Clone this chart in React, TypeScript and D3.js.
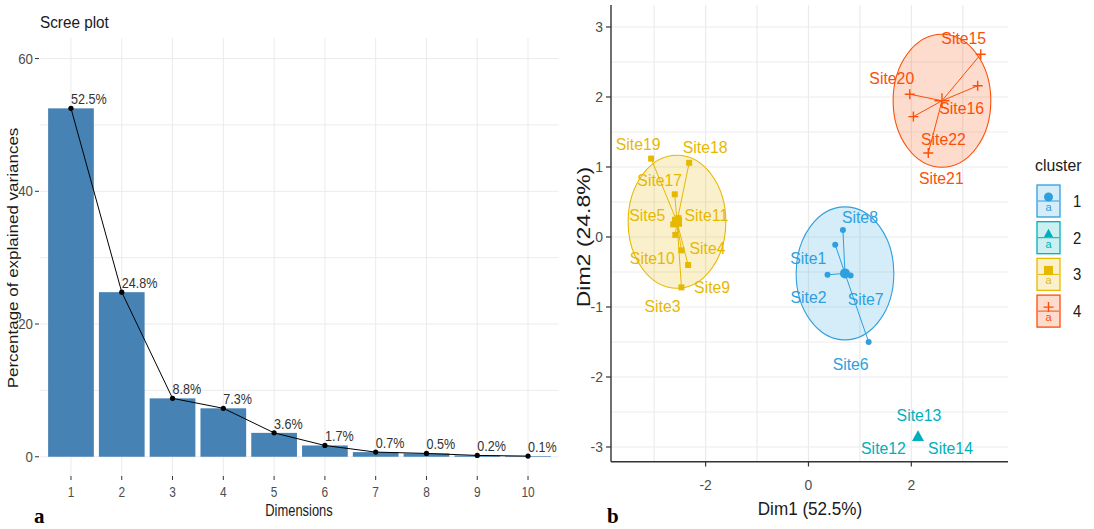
import React from "react";
import * as d3 from "d3";

// ---------- Scree plot data ----------
const dims = [1, 2, 3, 4, 5, 6, 7, 8, 9, 10];
const variances = [52.5, 24.8, 8.8, 7.3, 3.6, 1.7, 0.7, 0.5, 0.2, 0.1];
const screeYTicks = [0, 20, 40, 60];
const screeGridY = [0, 10, 20, 30, 40, 50, 60];

// ---------- Cluster plot data ----------
const siteNames = [
  "Site1", "Site2", "Site3", "Site4", "Site5", "Site6", "Site7", "Site8", "Site9", "Site10", "Site11",
  "Site12", "Site13", "Site14", "Site15", "Site16", "Site17", "Site18", "Site19", "Site20", "Site21", "Site22",
];
const dim1 = [0.52, 0.37, -2.47, -2.47, -2.63, 1.17, 0.82, 0.67, -2.34, -2.59, -2.53, 2.12, 2.13, 2.14, 3.35, 3.29, -2.6, -2.32, -3.06, 1.97, 2.33, 2.04];
const dim2 = [-0.11, -0.54, -0.72, -0.19, 0.18, -1.5, -0.55, 0.1, -0.4, 0.03, 0.27, -2.86, -2.84, -2.86, 2.61, 2.16, 0.61, 1.06, 1.12, 2.04, 1.2, 1.72];
const clusterOf = [1, 1, 3, 3, 3, 1, 1, 1, 3, 3, 3, 2, 2, 2, 4, 4, 3, 3, 3, 4, 4, 4];
const clusters = [1, 2, 3, 4];
const xTicksR = [-2, 0, 2];
const yTicksR = [-3, -2, -1, 0, 1, 2, 3];
const ellipseLevel = 0.95;

// label nudges (pixels) - styling, not data
const labelNudge: Record<string, [number, number]> = {
  Site1: [-27, 13], Site2: [-19, 22], Site3: [-19, 19], Site4: [26, -2], Site5: [-26, -9],
  Site6: [-18, 22], Site7: [15, 24], Site8: [17, -13], Site9: [24, 22], Site10: [-23, 23],
  Site11: [28, -3], Site12: [-34, 11], Site13: [1, -21], Site14: [32, 11], Site15: [-17, -16],
  Site16: [-16, 22], Site17: [-15, -14], Site18: [16, -16], Site19: [-13, -15], Site20: [-18, -16],
  Site21: [13, 25], Site22: [30, 22],
};

const palette = ["#2E9FDF", "#00AFBB", "#E7B800", "#FC4E07"];
const SANS = "'Liberation Sans', Arial, sans-serif";
const SERIF = "'Liberation Serif', 'Times New Roman', serif";

type TProps = {
  x: number; y: number; size: number; sx?: number; anchor?: string; fill?: string;
  children: React.ReactNode; weight?: string | number; family?: string;
};
const T = ({ x, y, size, sx = 1, anchor = "start", fill = "#333", children, weight = "normal", family = SANS }: TProps) => (
  <text
    transform={`translate(${x},${y}) scale(${sx},1)`}
    fontSize={size}
    fontFamily={family}
    fontWeight={weight}
    textAnchor={anchor}
    fill={fill}
  >
    {children}
  </text>
);

function Shape({ cluster, cx, cy, s, color }: { cluster: number; cx: number; cy: number; s: number; color: string }) {
  if (cluster === 1) return <circle cx={cx} cy={cy} r={s / 2} fill={color} />;
  if (cluster === 2) {
    const h = s * 0.9;
    return <path d={`M${cx},${cy - h * 0.6}L${cx + s / 2},${cy + h * 0.4}L${cx - s / 2},${cy + h * 0.4}Z`} fill={color} />;
  }
  if (cluster === 3) return <rect x={cx - s / 2} y={cy - s / 2} width={s} height={s} fill={color} />;
  return (
    <path d={`M${cx - s / 2},${cy}H${cx + s / 2}M${cx},${cy - s / 2}V${cy + s / 2}`} stroke={color} strokeWidth={1.4} fill="none" />
  );
}

export default function App() {
  // ---------- Scree scales ----------
  const xL = d3.scaleLinear().domain([0.4, 10.6]).range([40.5, 558.5]);
  const yL = d3.scaleLinear().domain([-2.9, 63.1]).range([476, 38]);
  const unit = xL(2) - xL(1);
  const barW = unit * 0.9;
  const line = d3.line<number>().x((_, i) => xL(dims[i])).y((v) => yL(v));

  // ---------- Cluster scales ----------
  const xR = d3.scaleLinear().domain([-3.84, 3.88]).range([611, 1008]);
  const yR = d3.scaleLinear().domain([-3.21, 3.314]).range([461.7, 5]);
  const gridXR = d3.range(-3, 4, 1);
  const gridYR = d3.range(-3, 3.01, 0.5);

  const pts = siteNames.map((n, i) => ({ name: n, x: dim1[i], y: dim2[i], c: clusterOf[i] }));
  const cent = clusters.map((c) => {
    const m = pts.filter((p) => p.c === c);
    const mx = d3.mean(m, (p) => p.x) as number;
    const my = d3.mean(m, (p) => p.y) as number;
    const spread = d3.max(m, (p) => Math.hypot(p.x - mx, p.y - my)) as number;
    return { c, x: mx, y: my, spread, members: m };
  });
  const rx = xR(ellipseLevel) - xR(0);
  const ry = yR(0) - yR(ellipseLevel);

  return (
    <svg width={1094} height={529} style={{ position: "absolute", left: 0, top: 0, background: "#fff" }}>
      <rect width={1094} height={529} fill="#fff" />
      {/* ================= Scree plot ================= */}
      <g>
        {screeGridY.map((v) => (
          <line key={"gy" + v} x1={40.5} x2={558.5} y1={yL(v)} y2={yL(v)} stroke="#EBEBEB" strokeWidth={1} />
        ))}
        {dims.map((d) => (
          <line key={"gx" + d} x1={xL(d)} x2={xL(d)} y1={38} y2={476} stroke="#EBEBEB" strokeWidth={1} />
        ))}
        {variances.map((v, i) => (
          <rect key={"b" + i} x={xL(dims[i]) - barW / 2} y={yL(v)} width={barW} height={yL(0) - yL(v)} fill="#4682B4" />
        ))}
        <path d={line(variances) || ""} fill="none" stroke="#000" strokeWidth={1} />
        {variances.map((v, i) => (
          <circle key={"p" + i} cx={xL(dims[i])} cy={yL(v)} r={2.6} fill="#000" />
        ))}
        {variances.map((v, i) => (
          <T key={"l" + i} x={xL(dims[i])} y={yL(v) - 4} size={15} sx={0.84} fill="#333">
            {v.toFixed(1) + "%"}
          </T>
        ))}
        {screeYTicks.map((v) => (
          <g key={"yt" + v}>
            <line x1={35} x2={39} y1={yL(v)} y2={yL(v)} stroke="#333" strokeWidth={1} />
            <T x={33} y={yL(v) + 5} size={14} sx={0.95} anchor="end" fill="#4D4D4D">
              {v}
            </T>
          </g>
        ))}
        {dims.map((d) => (
          <g key={"xt" + d}>
            <line x1={xL(d)} x2={xL(d)} y1={476} y2={480} stroke="#333" strokeWidth={1} />
            <T x={xL(d)} y={497} size={14} sx={0.85} anchor="middle" fill="#4D4D4D">
              {d}
            </T>
          </g>
        ))}
        <T x={40} y={28} size={17} sx={0.9} fill="#1a1a1a">Scree plot</T>
        <T x={299} y={516} size={17} sx={0.76} anchor="middle" fill="#1a1a1a">Dimensions</T>
        <text
          transform="translate(18,258) rotate(-90) scale(1,0.85)"
          fontSize={17}
          fontFamily={SANS}
          textAnchor="middle"
          fill="#1a1a1a"
        >
          Percentage of explained variances
        </text>
        <T x={34} y={523} size={21} weight="bold" family={SERIF} fill="#000">a</T>
      </g>

      {/* ================= Cluster plot ================= */}
      <g>
        {gridYR.map((v) => (
          <line key={"rgy" + v} x1={611} x2={1008} y1={yR(v)} y2={yR(v)} stroke="#EBEBEB" strokeWidth={1.2} />
        ))}
        {gridXR.map((v) => (
          <line key={"rgx" + v} x1={xR(v)} x2={xR(v)} y1={5} y2={461.7} stroke="#EBEBEB" strokeWidth={1.2} />
        ))}
        {/* ellipses */}
        {cent
          .filter((k) => k.spread > 0.1)
          .map((k) => (
            <ellipse
              key={"e" + k.c}
              cx={xR(k.x)}
              cy={yR(k.y)}
              rx={rx}
              ry={ry}
              fill={palette[k.c - 1]}
              fillOpacity={0.2}
              stroke={palette[k.c - 1]}
              strokeWidth={1.1}
            />
          ))}
        {/* star segments */}
        {cent.map((k) =>
          k.members.map((p) => (
            <line
              key={"s" + p.name}
              x1={xR(k.x)}
              y1={yR(k.y)}
              x2={xR(p.x)}
              y2={yR(p.y)}
              stroke={palette[k.c - 1]}
              strokeWidth={1}
            />
          ))
        )}
        {pts.map((p) => (
          <Shape key={"pt" + p.name} cluster={p.c} cx={xR(p.x)} cy={yR(p.y)} s={p.c === 4 ? 10 : p.c === 2 ? 8 : 6} color={palette[p.c - 1]} />
        ))}
        {cent.map((k) => (
          <Shape key={"c" + k.c} cluster={k.c} cx={xR(k.x)} cy={yR(k.y)} s={k.c === 4 ? 15 : k.c === 2 ? 12 : 10} color={palette[k.c - 1]} />
        ))}
        {pts.map((p) => {
          const [dx, dy] = labelNudge[p.name];
          return (
            <T key={"lab" + p.name} x={xR(p.x) + dx} y={yR(p.y) + dy + 6} size={17} sx={0.93} anchor="middle" fill={palette[p.c - 1]}>
              {p.name}
            </T>
          );
        })}
        {/* axes */}
        <line x1={611} x2={611} y1={5} y2={461.7} stroke="#333" strokeWidth={1.4} />
        <line x1={611} x2={1008} y1={461.7} y2={461.7} stroke="#333" strokeWidth={1.4} />
        {yTicksR.map((v) => (
          <g key={"ryt" + v}>
            <line x1={606} x2={611} y1={yR(v)} y2={yR(v)} stroke="#333" strokeWidth={1.2} />
            <T x={603} y={yR(v) + 5.5} size={15} sx={0.93} anchor="end" fill="#4D4D4D">
              {v}
            </T>
          </g>
        ))}
        {xTicksR.map((v) => (
          <g key={"rxt" + v}>
            <line x1={xR(v)} x2={xR(v)} y1={461.7} y2={466.5} stroke="#333" strokeWidth={1.2} />
            <T x={xR(v)} y={490} size={15} sx={0.93} anchor="middle" fill="#4D4D4D">
              {v}
            </T>
          </g>
        ))}
        <T x={810} y={515} size={19} sx={0.9} anchor="middle" fill="#1a1a1a">Dim1 (52.5%)</T>
        <text
          transform="translate(590,237) rotate(-90) scale(1,0.8)"
          fontSize={23}
          fontFamily={SANS}
          textAnchor="middle"
          fill="#1a1a1a"
        >
          Dim2 (24.8%)
        </text>
        <T x={607} y={523} size={21} weight="bold" family={SERIF} fill="#000">b</T>

        {/* legend */}
        <T x={1035} y={171} size={17} sx={0.93} fill="#1a1a1a">cluster</T>
        {clusters.map((c, i) => {
          const bx = 1037;
          const by = 185 + i * 36.7;
          const col = palette[c - 1];
          return (
            <g key={"lg" + c}>
              <rect x={bx} y={by} width={23} height={32} fill={col} fillOpacity={0.2} stroke={col} strokeWidth={1.3} />
              <line x1={bx + 1} x2={bx + 22} y1={by + 16} y2={by + 16} stroke={col} strokeWidth={1} />
              <text x={bx + 11.5} y={by + 26} fontSize={11} fontFamily={SANS} textAnchor="middle" fill={col}>a</text>
              <Shape cluster={c} cx={bx + 11.5} cy={by + 12} s={c === 4 ? 10 : 9} color={col} />
              <T x={1073} y={by + 22} size={16} sx={0.93} fill="#1a1a1a">{c}</T>
            </g>
          );
        })}
      </g>
    </svg>
  );
}
